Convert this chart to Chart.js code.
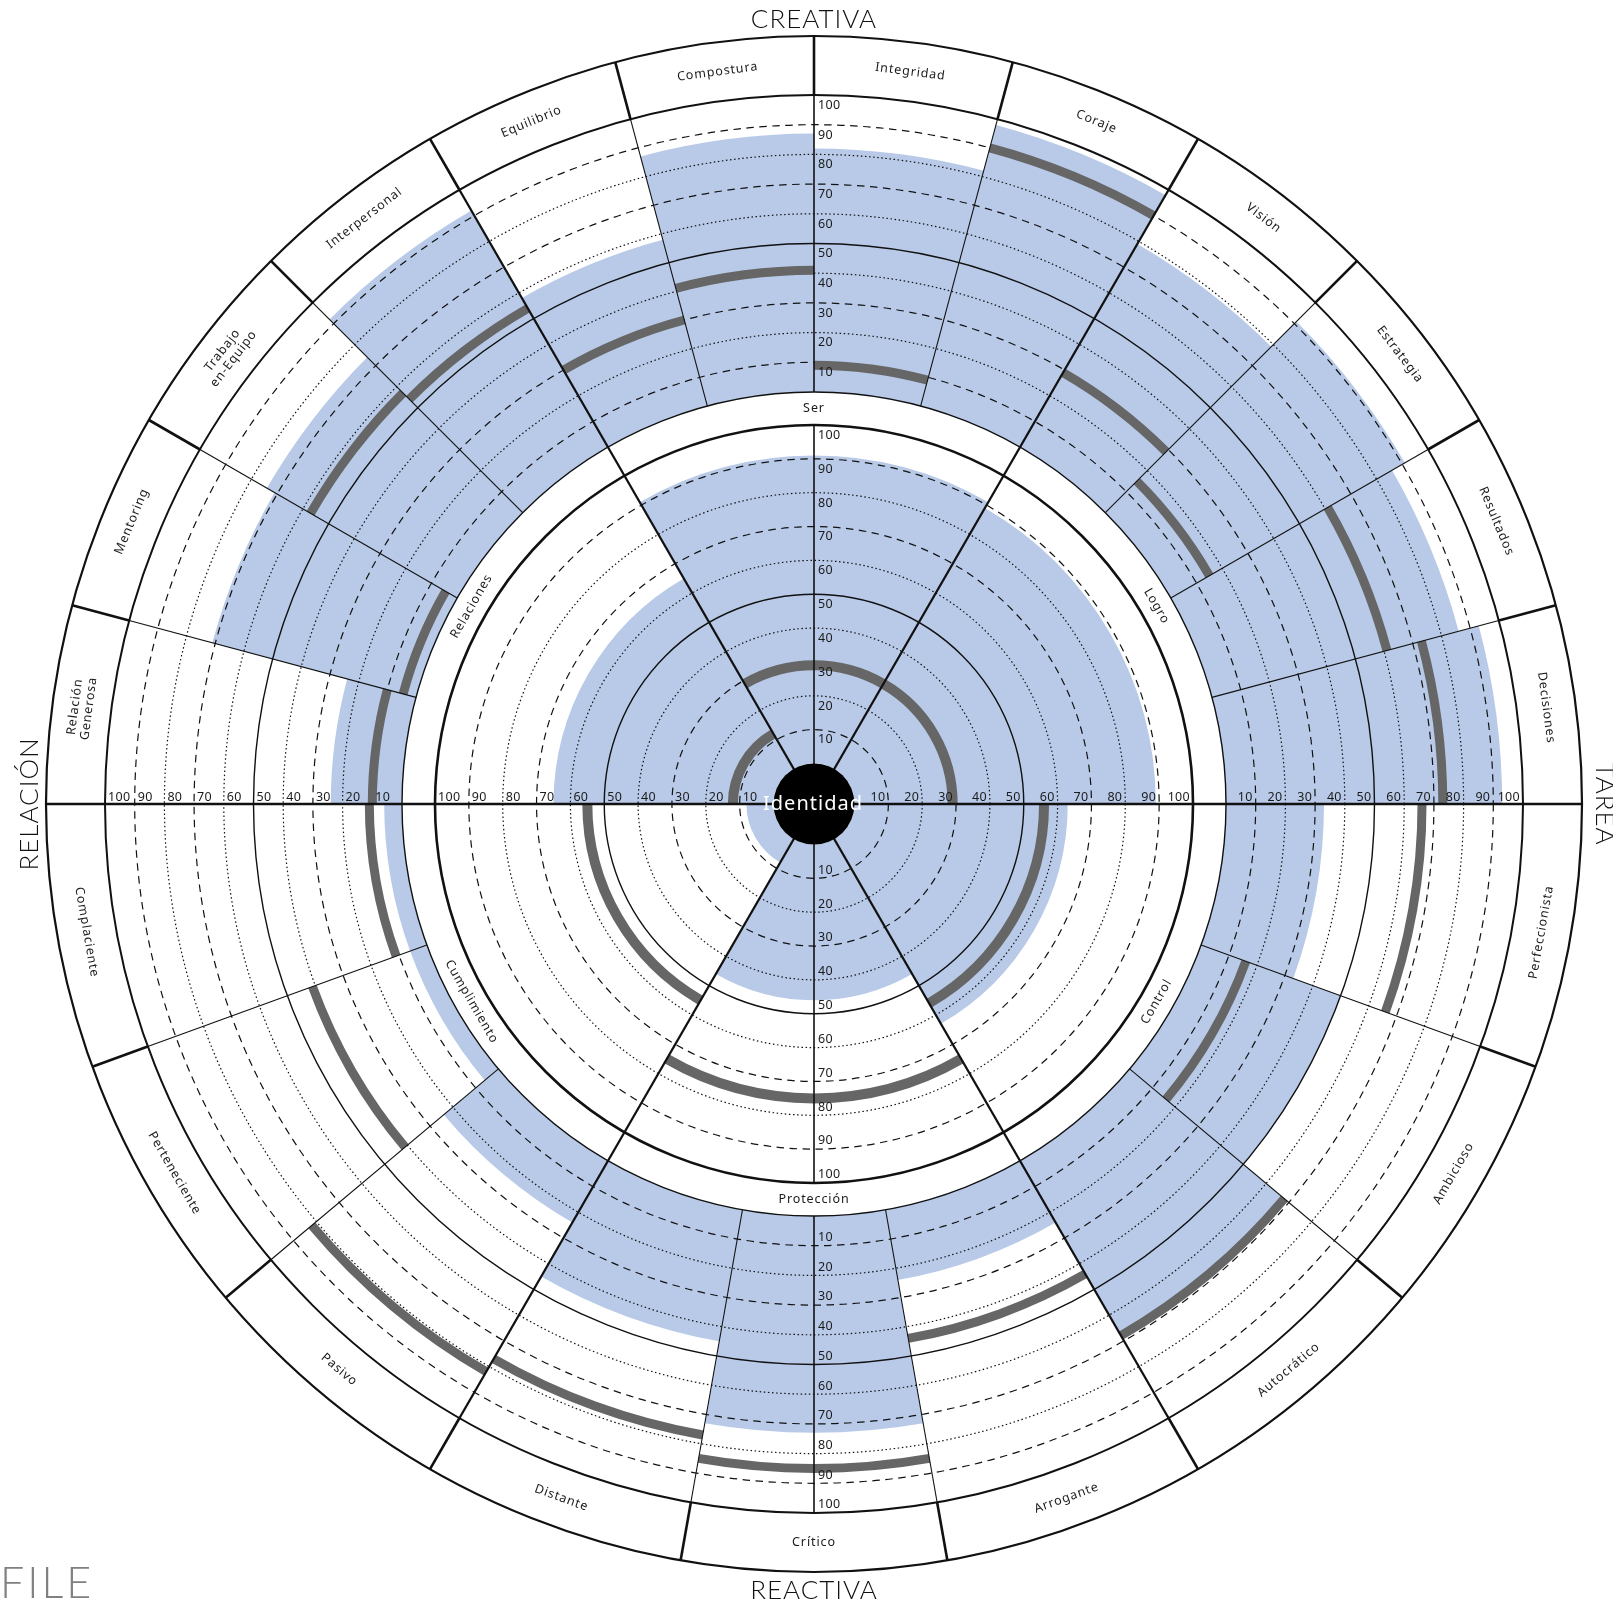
<!DOCTYPE html>
<html>
<head>
<meta charset="utf-8">
<title>Perfil</title>
<script src="https://cdn.jsdelivr.net/npm/chart.js@4.4.1/dist/chart.umd.min.js"></script>
<style>
  html, body { margin: 0; padding: 0; background: #fff; overflow: hidden; }
  #wrap { width: 1613px; height: 1604px; overflow: hidden; position: relative; }
  canvas { display: block; }
</style>
</head>
<body>
<div id="wrap"><canvas id="chart__profile" width="1628" height="1608"></canvas></div>
<script>
"use strict";

// outer ring, clockwise, first sector starts at -30 deg (Equilibrio)
const midLabels = ["Equilibrio", "Compostura", "Integridad", "Coraje", "Visión", "Estrategia",
  "Resultados", "Decisiones", "Perfeccionista", "Ambicioso", "Autocrático", "Arrogante",
  "Crítico", "Distante", "Pasivo", "Perteneciente", "Complaciente", "Relación\nGenerosa",
  "Mentoring", "Trabajo\nen-Equipo", "Interpersonal"];
const midAngles = [15, 15, 15, 15, 15, 15, 15, 15, 20, 20, 20, 20, 20, 20, 20, 20, 20, 15, 15, 15, 15];
const midBlue = [58, 87, 82, 98, 79, 91, 86, 93, 33, 50, 68, 24, 73, 45, 24, 6, 6, 24, 71, 74, 92];
const midGrey = [30, 41, 9, 90, 29, 15, 61, 73, 66, 16, 68, 44, 85, 77, 82, 41, 11, 10, 4.5, 57, 54];

// inner circle, same start angle
const innerLabels = ["Ser", "Logro", "Control", "Protección", "Cumplimiento", "Relaciones"];
const innerAngles = [60, 60, 60, 60, 60, 60];
const innerBlue = [91, 89, 63, 46, 8, 65];
const innerGrey = [29, 29, 56, 75, 55, 12];

const tickValues = [10, 20, 30, 40, 50, 60, 70, 80, 90, 100];
const axisTitles = ["CREATIVA", "TAREA", "REACTIVA", "RELACIÓN"];
const centerLabel = "Identidad";
const cornerLabel = "FILE";

// geometry of the rings, in scale units (1 unit = 1 px here)
const START_ANGLE = -30;
const SCALE_MAX = 804;
const MID_R0 = 412;
const MID_STEP = 2.97;
const INNER_R0 = 40.5;
const INNER_STEP = 3.385;
const LABEL_R1 = 768;
const GREY_HALF = 4.5;

const BLUE = "#b8cae8";
const GREY = "#666666";
const INK = "#111111";
const DASHED = [7.5, 5.5];
const DOTTED = [1.5, 2.6];

const midR = (v) => MID_R0 + MID_STEP * v;
const innerR = (v) => INNER_R0 + INNER_STEP * v;

function ringDataset(label, values, toR, angles, color, order, half) {
  return {
    label: label,
    data: values.map((v) => (half ? toR(v) + half : toR(v))),
    bases: values.map((v) => (half ? toR(v) - half : toR(0))),
    angles: angles,
    backgroundColor: color,
    borderWidth: 0,
    order: order,
  };
}

function boundaries(angles) {
  const out = [];
  let a = START_ANGLE;
  angles.forEach((step) => {
    out.push(a);
    a += step;
  });
  return out;
}

function centers(angles) {
  const out = [];
  let a = START_ANGLE;
  angles.forEach((step) => {
    out.push(a + step / 2);
    a += step;
  });
  return out;
}

function polar(s, deg, r) {
  const a = ((deg - 90) * Math.PI) / 180;
  const d = s.getDistanceFromCenterForValue(r);
  return { x: s.xCenter + Math.cos(a) * d, y: s.yCenter + Math.sin(a) * d };
}

function circle(ctx, s, r, width, dash) {
  ctx.save();
  ctx.strokeStyle = INK;
  ctx.lineWidth = width;
  ctx.setLineDash(dash);
  ctx.beginPath();
  ctx.arc(s.xCenter, s.yCenter, s.getDistanceFromCenterForValue(r), 0, Math.PI * 2);
  ctx.stroke();
  ctx.restore();
}

function spoke(ctx, s, deg, r0, r1, width) {
  const p0 = polar(s, deg, r0);
  const p1 = polar(s, deg, r1);
  ctx.save();
  ctx.strokeStyle = INK;
  ctx.lineWidth = width;
  ctx.beginPath();
  ctx.moveTo(p0.x, p0.y);
  ctx.lineTo(p1.x, p1.y);
  ctx.stroke();
  ctx.restore();
}

function drawGrid(chart) {
  const ctx = chart.ctx;
  const s = chart.scales.r;
  tickValues.forEach((v) => {
    if (v === 100) return;
    const dash = v === 50 ? [] : v % 20 === 10 ? DASHED : DOTTED;
    const w = v === 50 ? 1.4 : 1.2;
    circle(ctx, s, midR(v), w, dash);
    circle(ctx, s, innerR(v), w, dash);
  });
}

function arcText(ctx, s, text, deg, r, lineGap) {
  const p = polar(s, deg, r);
  const d = ((deg % 360) + 360) % 360;
  const flip = d > 90 && d < 270;
  const lines = text.split("\n");
  ctx.save();
  ctx.translate(p.x, p.y);
  ctx.rotate((((flip ? d - 180 : d) * Math.PI) / 180));
  ctx.textAlign = "center";
  ctx.textBaseline = "middle";
  lines.forEach((ln, k) => {
    ctx.fillText(ln, 0, (k - (lines.length - 1) / 2) * lineGap);
  });
  ctx.restore();
}

function tickLabels(ctx, s, toR) {
  tickValues.forEach((v) => {
    const d = s.getDistanceFromCenterForValue(toR(v));
    const t = String(v);
    ctx.textBaseline = "alphabetic";
    ctx.textAlign = "right";
    ctx.fillText(t, s.xCenter + d - 3, s.yCenter - 3);
    ctx.textAlign = "left";
    ctx.fillText(t, s.xCenter - d + 3, s.yCenter - 3);
    ctx.textBaseline = "top";
    ctx.fillText(t, s.xCenter + 4, s.yCenter - d + 4);
    ctx.textBaseline = "bottom";
    ctx.fillText(t, s.xCenter + 4, s.yCenter + d - 2);
  });
}

function drawFrame(chart) {
  const ctx = chart.ctx;
  const s = chart.scales.r;

  circle(ctx, s, midR(0), 1.4, []);
  circle(ctx, s, midR(100), 2, []);
  circle(ctx, s, innerR(100), 2.6, []);
  circle(ctx, s, LABEL_R1, 2.2, []);

  const dims = boundaries(innerAngles).map((a) => ((a % 360) + 360) % 360);
  boundaries(midAngles).forEach((b) => {
    const d = ((b % 360) + 360) % 360;
    spoke(ctx, s, d, midR(100), LABEL_R1, 2.6);
    if (dims.indexOf(d) < 0 && d !== 0) spoke(ctx, s, d, midR(0), midR(100), 1.1);
  });
  dims.forEach((d) => spoke(ctx, s, d, 0, midR(100), 2.3));
  // vertical axis, interrupted by the white label band
  [0, 180].forEach((d) => {
    spoke(ctx, s, d, 0, innerR(100), 1.6);
    spoke(ctx, s, d, midR(0), midR(100), 1.6);
  });

  // centre disc
  ctx.save();
  ctx.fillStyle = "#000";
  ctx.beginPath();
  ctx.arc(s.xCenter, s.yCenter, s.getDistanceFromCenterForValue(innerR(0)), 0, Math.PI * 2);
  ctx.fill();
  ctx.fillStyle = "#fff";
  ctx.font = "20px 'Noto Sans'";
  ctx.letterSpacing = "1px";
  ctx.textAlign = "center";
  ctx.textBaseline = "middle";
  ctx.fillText(centerLabel, s.xCenter - 1, s.yCenter);
  ctx.restore();
}

function drawTexts(chart) {
  const ctx = chart.ctx;
  const s = chart.scales.r;
  ctx.save();
  ctx.fillStyle = "#1a1a1a";
  ctx.font = "12.5px 'Noto Sans'";
  ctx.letterSpacing = "0.3px";
  tickLabels(ctx, s, midR);
  tickLabels(ctx, s, innerR);

  ctx.letterSpacing = "0.9px";
  const midC = centers(midAngles);
  midLabels.forEach((t, i) => arcText(ctx, s, t, midC[i], (midR(100) + LABEL_R1) / 2, 14));
  const innerC = centers(innerAngles);
  innerLabels.forEach((t, i) => arcText(ctx, s, t, innerC[i], (innerR(100) + MID_R0) / 2, 14));

  // titles round the circle
  ctx.font = "300 26px Lato";
  ctx.letterSpacing = "1px";
  ctx.fillStyle = "#111";
  ctx.textAlign = "center";
  ctx.textBaseline = "alphabetic";
  const top = polar(s, 0, LABEL_R1);
  const bottom = polar(s, 180, LABEL_R1);
  ctx.fillText(axisTitles[0], top.x, top.y - 8);
  ctx.fillText(axisTitles[2], bottom.x, bottom.y + 27);
  const right = polar(s, 90, LABEL_R1);
  ctx.save();
  ctx.translate(right.x + 14, right.y);
  ctx.rotate(Math.PI / 2);
  ctx.fillText(axisTitles[1], 0, 0);
  ctx.restore();
  const left = polar(s, 270, LABEL_R1);
  ctx.save();
  ctx.translate(left.x - 8, left.y);
  ctx.rotate(-Math.PI / 2);
  ctx.fillText(axisTitles[3], 0, 0);
  ctx.restore();

  ctx.font = "300 43px Lato";
  ctx.letterSpacing = "3px";
  ctx.fillStyle = "#808080";
  ctx.textAlign = "left";
  ctx.fillText(cornerLabel, 0, 1598);
  ctx.restore();
}

const profilePlugin = {
  id: "profileRings",
  afterDatasetsUpdate(chart) {
    const scale = chart.scales.r;
    chart.data.datasets.forEach((ds, i) => {
      chart.getDatasetMeta(i).data.forEach((arc, j) => {
        arc.innerRadius = scale.getDistanceFromCenterForValue(ds.bases[j]);
      });
    });
  },
  beforeDatasetDraw(chart, args) {
    if (chart.data.datasets[args.index].label === "midGrey") drawGrid(chart);
  },
  afterDatasetsDraw(chart) {
    drawFrame(chart);
    drawTexts(chart);
  },
};

const chartSelector = document.getElementById("chart__profile").getContext("2d");

const chartProfile = new Chart(chartSelector, {
  type: "polarArea",
  data: {
    labels: midLabels,
    datasets: [
      ringDataset("midBlue", midBlue, midR, midAngles, BLUE, 4, 0),
      ringDataset("innerBlue", innerBlue, innerR, innerAngles, BLUE, 3, 0),
      ringDataset("midGrey", midGrey, midR, midAngles, GREY, 2, GREY_HALF),
      ringDataset("innerGrey", innerGrey, innerR, innerAngles, GREY, 1, GREY_HALF + 0.5),
    ],
  },
  options: {
    responsive: false,
    animation: false,
    events: [],
    layout: { padding: 0 },
    datasets: {
      polarArea: {
        angle: (c) => c.dataset.angles[c.dataIndex],
      },
    },
    scales: {
      r: {
        min: 0,
        max: SCALE_MAX,
        startAngle: START_ANGLE,
        ticks: { display: false },
        grid: { display: false },
        angleLines: { display: false },
        pointLabels: { display: false },
      },
    },
    plugins: {
      legend: { display: false },
      tooltip: { enabled: false },
    },
  },
  plugins: [profilePlugin],
});
</script>
</body>
</html>
